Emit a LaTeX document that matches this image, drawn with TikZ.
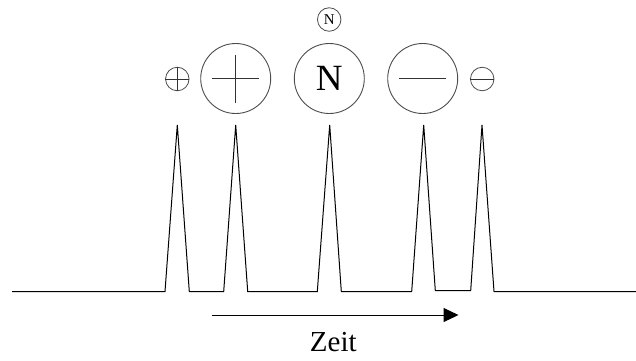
\documentclass[tikz,border=0pt]{standalone}
\usepackage{fontspec}
\setmainfont{Liberation Serif}
\usetikzlibrary{arrows.meta}
\begin{document}
\begin{tikzpicture}[x=1pt,y=-1pt,
  signal/.style={line width=1pt,line join=miter},
  bigcharge/.style={circle,draw=black!70,line width=0.9pt,minimum size=70pt,inner sep=0pt},
  smallcharge/.style={circle,draw=black!70,line width=0.8pt,minimum size=23.5pt,inner sep=0pt},
  sign/.style={line width=0.9pt,black!80}]
\useasboundingbox (0,0) rectangle (636,360);

% charge symbols
\node[smallcharge] (sp) at (177.3,79) {};
\draw[sign] (sp.west) -- (sp.east) (sp.north) -- (sp.south);
\node[bigcharge] (bp) at (235.7,78.5) {};
\draw[sign] ([xshift=-23.7pt]bp.center) -- ([xshift=23.7pt]bp.center)
            ([yshift=-24pt]bp.center) -- ([yshift=24pt]bp.center);
\node[bigcharge,font=\fontsize{37}{37}\selectfont] (bn) at (329.3,78.5) {N};
\node[smallcharge,font=\fontsize{15}{15}\selectfont] (sn) at (329.2,19.5) {N};
\node[bigcharge] (bm) at (422.7,78.5) {};
\draw[sign] ([xshift=-23.3pt]bm.center) -- ([xshift=23.3pt]bm.center);
\node[smallcharge] (sm) at (482.2,79) {};
\draw[sign] (sm.west) -- (sm.east);

% pulse train
\draw[signal] (12,291.5) -- (165,291.5) -- (177.3,125) -- (189.3,291.5)
  -- (223.7,291.5) -- (235.7,125) -- (247.7,291.5)
  -- (317.3,291.5) -- (329.7,125) -- (341.3,291.5)
  -- (411.7,291.5) -- (423.7,125) -- (435.3,290.5)
  -- (470.7,290.5) -- (482,125) -- (494,291.5) -- (636,291.5);

% time axis
\coordinate (t0) at (212,315);
\coordinate (t1) at (458.5,315);
\draw[line width=1pt,-{Triangle[length=15pt,width=14pt]}] (t0) -- (t1);
\node[font=\fontsize{29}{29}\selectfont,anchor=base] (zeit) at (333.3,351.5) {Zeit};
\end{tikzpicture}
\end{document}
